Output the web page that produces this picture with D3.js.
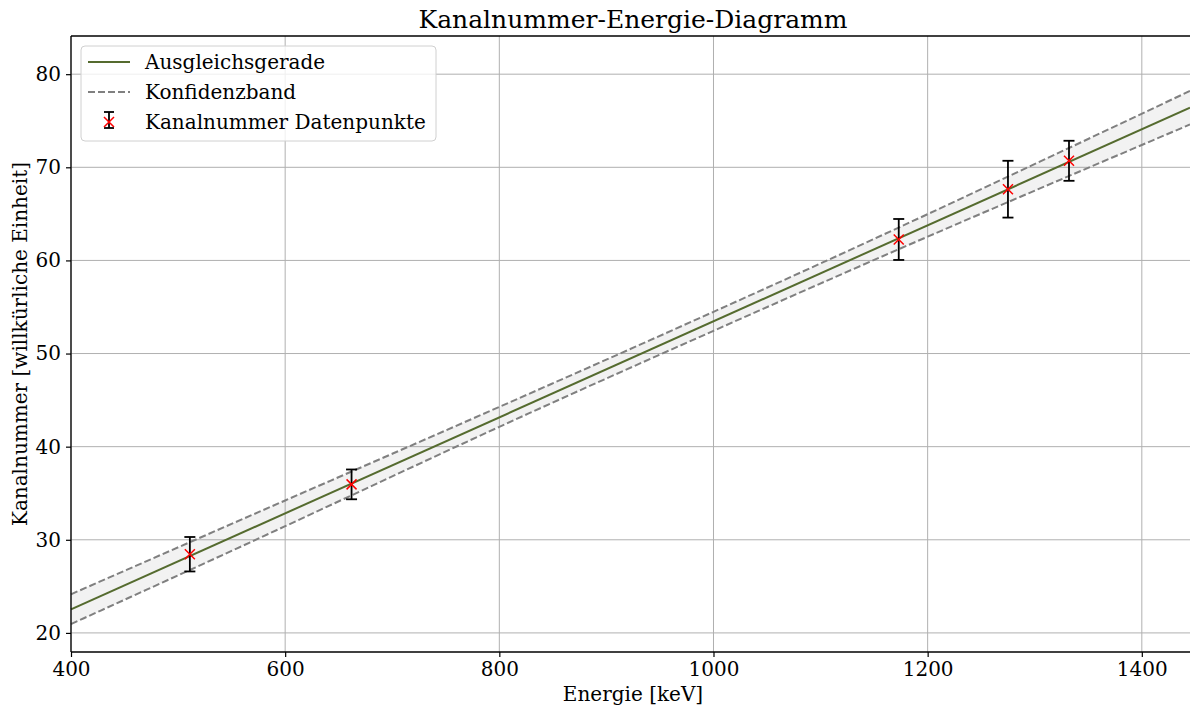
<!DOCTYPE html>
<html>
<head>
<meta charset="utf-8">
<script src="https://cdn.jsdelivr.net/npm/d3@7"></script>
<style>
  body { margin: 0; background: #fff; }
  svg { display: block; font-family: "DejaVu Serif", serif; }
</style>
</head>
<body>
<svg id="chart" width="1190" height="707"></svg>
<script>
// data points
var energies = [511, 662, 1173, 1275, 1332];
var channels = [28.45, 35.95, 62.25, 67.65, 70.7];
var errors = [1.85, 1.6, 2.2, 3.05, 2.15];

// fit line parameters
var slope = 0.05155;
var intercept = 1.91;

// confidence band, read at a few energies
var bandX = [400, 600, 800, 1000, 1200, 1445];
var bandUpper = [24.15, 34.22, 44.27, 54.48, 64.97, 78.2];
var bandLower = [20.95, 31.46, 42.13, 52.44, 62.55, 74.6];

var xTicks = [400, 600, 800, 1000, 1200, 1400];
var yTicks = [20, 30, 40, 50, 60, 70, 80];

var margin = {top: 36, right: 0, bottom: 55, left: 71};
var width = 1190 - margin.left - margin.right;
var height = 707 - margin.top - margin.bottom;

var svg = d3.select('#chart');
var g = svg.append('g')
    .attr('transform', `translate(${margin.left},${margin.top})`);

var x = d3.scaleLinear().domain([400, 1445]).range([0, width]);
var y = d3.scaleLinear().domain([17.95, 84.1]).range([height, 0]);

// grid
g.append('g').selectAll('line.gx')
    .data(xTicks).enter().append('line')
    .attr('x1', d => x(d)).attr('x2', d => x(d))
    .attr('y1', 0).attr('y2', height)
    .attr('stroke', '#b0b0b0').attr('stroke-width', 1);
g.append('g').selectAll('line.gy')
    .data(yTicks).enter().append('line')
    .attr('y1', d => y(d)).attr('y2', d => y(d))
    .attr('x1', 0).attr('x2', width)
    .attr('stroke', '#b0b0b0').attr('stroke-width', 1);

// band
var band = d3.area()
    .x((d, i) => x(bandX[i]))
    .y0((d, i) => y(bandLower[i]))
    .y1((d, i) => y(bandUpper[i]))
    .curve(d3.curveNatural);
g.append('path').datum(bandX)
    .attr('d', band)
    .attr('fill', '#808080').attr('fill-opacity', 0.1);

var upperLine = d3.line().x((d, i) => x(bandX[i])).y((d, i) => y(bandUpper[i])).curve(d3.curveNatural);
var lowerLine = d3.line().x((d, i) => x(bandX[i])).y((d, i) => y(bandLower[i])).curve(d3.curveNatural);
[upperLine, lowerLine].forEach(function(l) {
    g.append('path').datum(bandX)
        .attr('d', l)
        .attr('fill', 'none')
        .attr('stroke', '#808080')
        .attr('stroke-width', 2)
        .attr('stroke-dasharray', '7,3');
});

// fit line
var fitX = [400, 1445];
g.append('path').datum(fitX)
    .attr('d', d3.line().x(d => x(d)).y(d => y(intercept + slope * d)))
    .attr('fill', 'none')
    .attr('stroke', '#556b2f')
    .attr('stroke-width', 2);

// error bars
var eb = g.append('g').selectAll('g')
    .data(energies).enter().append('g');
eb.append('line')
    .attr('x1', d => x(d)).attr('x2', d => x(d))
    .attr('y1', (d, i) => y(channels[i] - errors[i]))
    .attr('y2', (d, i) => y(channels[i] + errors[i]))
    .attr('stroke', '#000').attr('stroke-width', 1.8);
[-1, 1].forEach(function(s) {
    eb.append('line')
        .attr('x1', d => x(d) - 5.5).attr('x2', d => x(d) + 5.5)
        .attr('y1', (d, i) => y(channels[i] + s * errors[i]))
        .attr('y2', (d, i) => y(channels[i] + s * errors[i]))
        .attr('stroke', '#000').attr('stroke-width', 1.8);
});
eb.append('path')
    .attr('d', 'M-5,-5L5,5M-5,5L5,-5')
    .attr('transform', (d, i) => `translate(${x(d)},${y(channels[i])})`)
    .attr('stroke', 'red').attr('stroke-width', 1.5);

// axes
var xAxis = d3.axisBottom(x).tickValues(xTicks).tickFormat(d3.format('d')).tickSize(5).tickPadding(5);
var yAxis = d3.axisLeft(y).tickValues(yTicks).tickFormat(d3.format('d')).tickSize(5).tickPadding(5);
var xa = g.append('g').attr('transform', `translate(0,${height})`).call(xAxis);
var ya = g.append('g').call(yAxis);
[xa, ya].forEach(function(a) {
    a.select('.domain').attr('stroke', '#000').attr('stroke-width', 1.3);
    a.selectAll('.tick line').attr('stroke', '#000').attr('stroke-width', 1.2);
    a.selectAll('.tick text').attr('font-size', 20).attr('fill', '#000')
        .attr('font-family', '"DejaVu Serif", serif');
});
xa.select('.domain').attr('d', `M0,0H${width}`);
ya.select('.domain').attr('d', `M0,${height}V0`);
g.append('line').attr('x1', 0).attr('x2', width).attr('y1', 0).attr('y2', 0)
    .attr('stroke', '#000').attr('stroke-width', 1.3);

// labels
svg.append('text').attr('x', 633).attr('y', 28).attr('text-anchor', 'middle')
    .attr('font-size', 25).text('Kanalnummer-Energie-Diagramm');
svg.append('text').attr('x', 633).attr('y', 701).attr('text-anchor', 'middle')
    .attr('font-size', 20).text('Energie [keV]');
svg.append('text').attr('transform', 'translate(27,344) rotate(-90)')
    .attr('text-anchor', 'middle')
    .attr('font-size', 20).text('Kanalnummer [willkürliche Einheit]');

// legend
var lg = svg.append('g').attr('transform', 'translate(81,46)');
lg.append('rect').attr('width', 355).attr('height', 95).attr('rx', 4)
    .attr('fill', '#fff').attr('fill-opacity', 0.8)
    .attr('stroke', '#d0d0d0').attr('stroke-width', 1);
var legendItems = ['Ausgleichsgerade', 'Konfidenzband', 'Kanalnummer Datenpunkte'];
lg.selectAll('text.l').data(legendItems).enter().append('text')
    .attr('x', 64).attr('y', (d, i) => 23 + i * 30)
    .attr('font-size', 20).text(d => d);
lg.append('line').attr('x1', 7).attr('x2', 49).attr('y1', 16).attr('y2', 16)
    .attr('stroke', '#556b2f').attr('stroke-width', 2);
lg.append('line').attr('x1', 7).attr('x2', 49).attr('y1', 46).attr('y2', 46)
    .attr('stroke', '#808080').attr('stroke-width', 2).attr('stroke-dasharray', '7,3');
lg.append('line').attr('x1', 28).attr('x2', 28).attr('y1', 66).attr('y2', 82)
    .attr('stroke', '#000').attr('stroke-width', 1.8);
lg.append('line').attr('x1', 23).attr('x2', 33).attr('y1', 66).attr('y2', 66)
    .attr('stroke', '#000').attr('stroke-width', 1.8);
lg.append('line').attr('x1', 23).attr('x2', 33).attr('y1', 82).attr('y2', 82)
    .attr('stroke', '#000').attr('stroke-width', 1.8);
lg.append('path').attr('d', 'M-5,-5L5,5M-5,5L5,-5')
    .attr('transform', 'translate(28,76)')
    .attr('stroke', 'red').attr('stroke-width', 1.5);
</script>
</body>
</html>
